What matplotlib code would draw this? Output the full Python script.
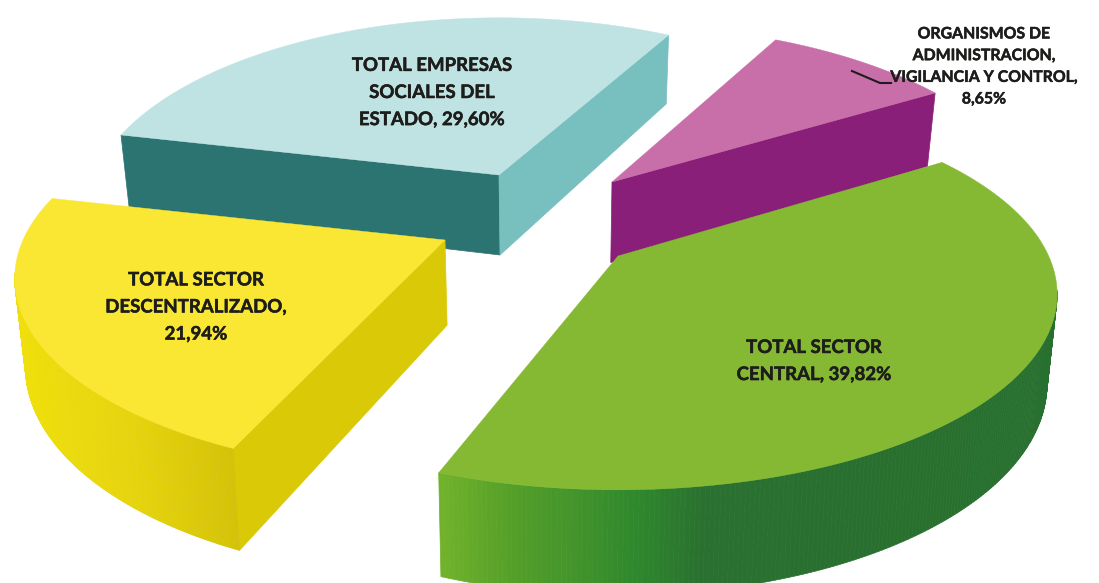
import numpy as np
import matplotlib
matplotlib.use("Agg")
import matplotlib.pyplot as plt
import matplotlib.patheffects as pe
from matplotlib.collections import PolyCollection
from matplotlib.colors import to_rgb

categories = ["TOTAL SECTOR\nCENTRAL, ", "TOTAL SECTOR\nDESCENTRALIZADO,\n", "TOTAL EMPRESAS\nSOCIALES DEL\nESTADO, ",
              "ORGANISMOS DE\nADMINISTRACION,\nVIGILANCIA Y CONTROL,\n"]
values = [39.82, 21.94, 29.60, 8.65]
value_labels = ["39,82%", "21,94%", "29,60%", "8,65%"]

W, H = 1099, 583
START = 33.5
A, B = 435.0, 188.0
PERSP = 0.196
apex = [(618, 256), (445, 240), (499, 175), (612, 182)]
xscale = [0.99, 0.97, 0.93, 0.96]
rotation = [0, -4.5, -4, -2]
top_col = ["#85b933", "#f9e733", "#bfe3e2", "#c86ea8"]
wall_start = [None, "#d9c907", "#2c7471", None]
wall_end = [None, None, "#78bfc0", "#8a1f7a"]
outer_stops = [
    [(437, "#72b32b"), (510, "#55a029"), (640, "#2f872d"), (705, "#2a7030"), (1060, "#28702f")],
    [(18, "#efdf0c"), (130, "#e5d40c"), (232, "#d4c208"), (240, "#d9c907")],
    [(100, "#bfe3e2"), (700, "#bfe3e2")],
    [(700, "#c86ea8"), (940, "#c86ea8")],
]
label_pos = [(814, 361), (196, 307), (432, 92.5), (984, 67)]
label_size = [13.4, 13.4, 13.4, 11.4]
line_space = [1.72, 1.72, 1.72, 1.7]
draw_order = [2, 3, 1, 0]

fig = plt.figure(figsize=(W / 100, H / 100), dpi=100)
ax = fig.add_axes([0, 0, 1, 1])
ax.set_xlim(0, W)
ax.set_ylim(H, 0)
ax.axis("off")


def project(i, theta):
    th = np.radians(theta)
    s = 1 / (1 + PERSP * np.sin(th))
    return (apex[i][0] + xscale[i] * A * s * np.cos(th), apex[i][1] - B * s * np.sin(th))


def depth(x, y):
    return x + (550 - x) * 0.02, y + 66 + 0.08 * np.asarray(y)


def stops_color(i, x):
    xs = [p[0] for p in outer_stops[i]]
    cs = np.array([to_rgb(p[1]) for p in outer_stops[i]])
    return [np.interp(x, xs, cs[:, k]) for k in range(3)]


edges = START - np.cumsum([0] + values) * 3.6

for rank, i in enumerate(draw_order):
    z = (rank + 1) * 10
    t0, t1 = edges[i] + rotation[i], edges[i + 1] + rotation[i]
    th = np.linspace(t0, t1, 260)
    x, y = project(i, th)
    bx, by = depth(x, y)
    ax0, ay0 = apex[i]
    abx, aby = depth(ax0, ay0)
    if wall_start[i] is not None:
        ax.fill([x[0], ax0, abx, bx[0]], [y[0], ay0, aby, by[0]], color=wall_start[i], lw=0.5, zorder=z + 1)
    if wall_end[i] is not None:
        ax.fill([x[-1], ax0, abx, bx[-1]], [y[-1], ay0, aby, by[-1]], color=wall_end[i], lw=0.5, zorder=z + 1)
    quads, cols = [], []
    for k in range(len(x) - 1):
        if np.sin(np.radians(th[k])) < -PERSP + 0.02:
            quads.append([(x[k], y[k]), (x[k + 1], y[k + 1]), (bx[k + 1], by[k + 1]), (bx[k], by[k])])
            cols.append(stops_color(i, (x[k] + x[k + 1]) / 2))
    if quads:
        ax.add_collection(PolyCollection(quads, facecolors=cols, edgecolors=cols, linewidths=0.5, zorder=z + 2))
    ax.fill(np.r_[ax0, x], np.r_[ay0, y], color=top_col[i], lw=0.3, zorder=z + 3)

for i in range(4):
    ax.text(label_pos[i][0], label_pos[i][1], categories[i] + value_labels[i], ha="center", va="center", ma="center",
            fontsize=label_size[i], fontweight="bold", family="Lato", color="#1d1d1b", linespacing=line_space[i],
            zorder=900, path_effects=[pe.withStroke(linewidth=0.35, foreground="#1d1d1b")])

ax.plot([852, 880, 891], [71, 83, 83], color="#1d1d1b", lw=1.5, zorder=900)
fig.savefig("out.png", dpi=100, facecolor="white")
